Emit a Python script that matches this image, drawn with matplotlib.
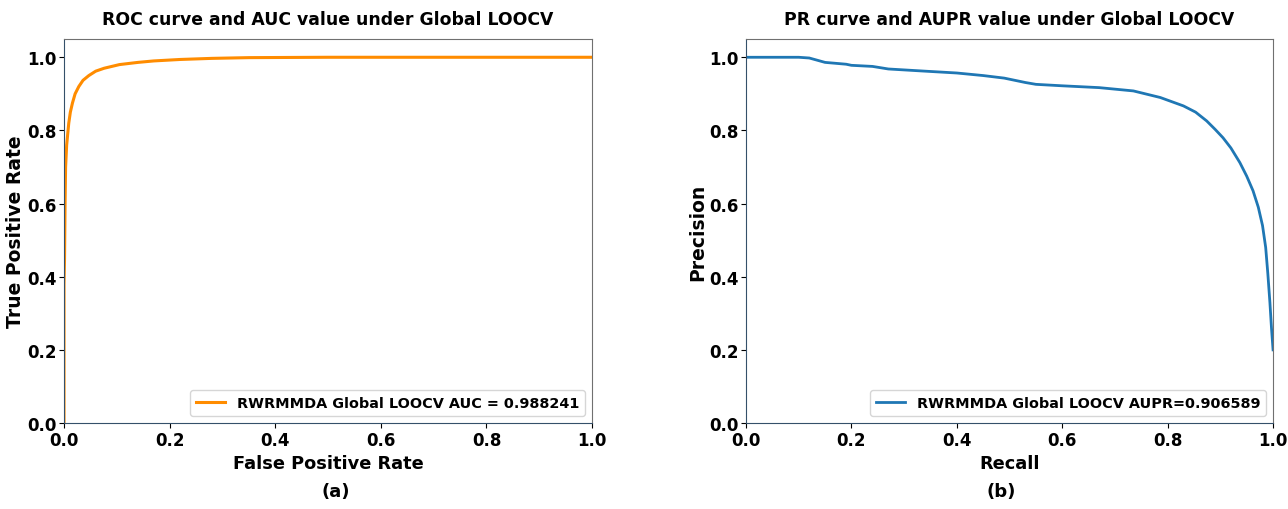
import matplotlib
matplotlib.use("Agg")
from matplotlib import pyplot as plt

# ROC curve
fpr = [0.0, 0.0, 0.001, 0.002, 0.003, 0.005, 0.007, 0.009, 0.012, 0.016, 0.021,
       0.028, 0.036, 0.047, 0.06, 0.076, 0.105, 0.14, 0.17, 0.22, 0.28, 0.35, 0.5, 1.0]
tpr = [0.0, 0.38, 0.45, 0.6, 0.7, 0.76, 0.79, 0.82, 0.85, 0.875, 0.9,
       0.92, 0.937, 0.95, 0.962, 0.97, 0.98, 0.986, 0.99, 0.994, 0.997, 0.999, 1.0, 1.0]
auc_label = "RWRMMDA Global LOOCV AUC = 0.988241"

# PR curve
recall = [0.0, 0.05, 0.10, 0.12, 0.14, 0.15, 0.19, 0.20, 0.24, 0.27, 0.34, 0.40,
          0.45, 0.49, 0.51, 0.53, 0.55, 0.60, 0.67, 0.735, 0.786, 0.83, 0.853,
          0.874, 0.89, 0.905, 0.92, 0.937, 0.95, 0.962, 0.972, 0.98, 0.986,
          0.99, 0.994, 0.997, 1.0]
precision = [1.0, 1.0, 1.0, 0.998, 0.99, 0.986, 0.981, 0.978, 0.975, 0.968, 0.962, 0.957,
             0.95, 0.943, 0.937, 0.931, 0.926, 0.922, 0.917, 0.908, 0.89, 0.867, 0.85,
             0.826, 0.803, 0.78, 0.752, 0.712, 0.675, 0.635, 0.59, 0.54, 0.48,
             0.41, 0.33, 0.26, 0.2]
aupr_label = "RWRMMDA Global LOOCV AUPR=0.906589"

plt.rcParams["font.family"] = "DejaVu Sans"
plt.rcParams["font.weight"] = "bold"
plt.rcParams["axes.labelweight"] = "bold"
plt.rcParams["axes.titleweight"] = "bold"

fig = plt.figure(figsize=(12.88, 5.10), dpi=100)
ax1 = fig.add_axes([0.0497, 0.1686, 0.41, 0.753])
ax2 = fig.add_axes([0.5792, 0.1686, 0.4092, 0.753])

ax1.plot(fpr, tpr, color="darkorange", lw=2.2, label=auc_label)
ax1.set_title("ROC curve and AUC value under Global LOOCV", fontsize=12.4, pad=11)
ax1.set_xlabel("False Positive Rate", fontsize=12.8, labelpad=4)
ax1.set_ylabel("True Positive Rate", fontsize=13.5, labelpad=1)

ax2.plot(recall, precision, color="#1f77b4", lw=2, label=aupr_label)
ax2.set_title("PR curve and AUPR value under Global LOOCV", fontsize=12.4, pad=11)
ax2.set_xlabel("Recall", fontsize=12.8, labelpad=4)
ax2.set_ylabel("Precision", fontsize=13.5, labelpad=1)

for ax in (ax1, ax2):
    ax.set_xlim(0, 1.0)
    ax.set_ylim(0, 1.05)
    ax.set_xticks([0, 0.2, 0.4, 0.6, 0.8, 1.0])
    ax.set_yticks([0, 0.2, 0.4, 0.6, 0.8, 1.0])
    ax.tick_params(labelsize=12, pad=2)
    for lab in ax.get_xticklabels() + ax.get_yticklabels():
        lab.set_fontweight("bold")
    ax.spines["left"].set_color("#34506a")
    ax.spines["bottom"].set_color("#34506a")
    ax.spines["top"].set_color("#707070")
    ax.spines["right"].set_color("#707070")
    ax.legend(loc="lower right", fontsize=10.4, handlelength=2)

fig.text(0.261, 0.025, "(a)", ha="center", fontsize=13, fontweight="bold")
fig.text(0.777, 0.025, "(b)", ha="center", fontsize=13, fontweight="bold")

fig.savefig("out.png", dpi=100)
